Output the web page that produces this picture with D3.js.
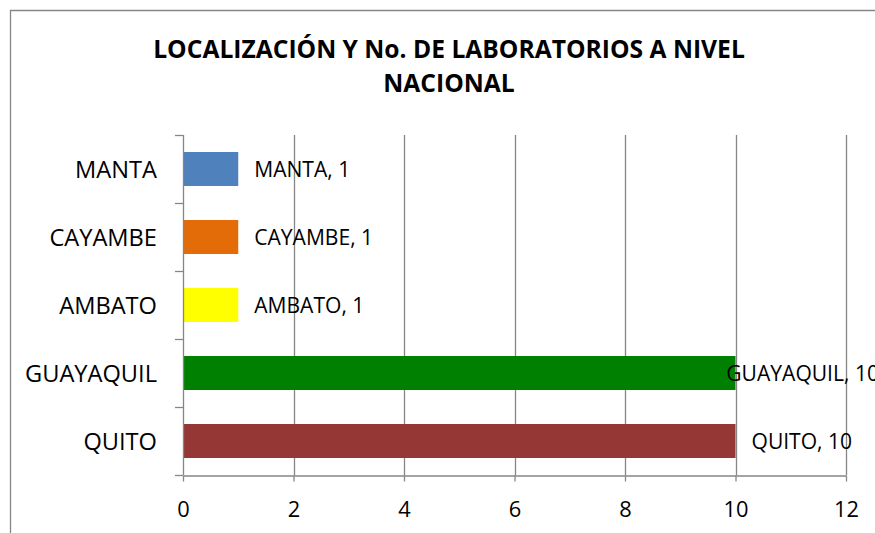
<!DOCTYPE html>
<html><head><meta charset="utf-8">
<script src="https://cdn.jsdelivr.net/npm/d3@7"></script>
<style>html,body{margin:0;padding:0;background:#fff;}svg{display:block;}</style>
</head><body>
<svg id="c" width="875" height="533"></svg>
<script>
const categories = ["QUITO", "GUAYAQUIL", "AMBATO", "CAYAMBE", "MANTA"];
const values = [10, 10, 1, 1, 1];
const colors = ["#953735", "#008000", "#FFFF00", "#E36C09", "#4F81BD"];
const xTicks = [0, 2, 4, 6, 8, 10, 12];
const titleLines = ["LOCALIZACIÓN Y No. DE LABORATORIOS A NIVEL", "NACIONAL"];

const FONT = "'Open Sans', Lato, sans-serif";
const svg = d3.select("#c");
const W = 875, H = 533;
const m = {left: 183, right: 846, top: 135, bottom: 475};
const chartRight = 879;
const GRID = "#868686";

// size a font so that a sample string has a given width
function fitSize(sample, target, weight) {
  const t = svg.append("text").attr("font-family", FONT).attr("font-weight", weight || "normal")
    .attr("font-size", 20).text(sample);
  const w = t.node().getComputedTextLength();
  t.remove();
  return 20 * target / w;
}
const titleSize = fitSize(titleLines[0], 592, "bold");
const catSize = fitSize("MANTA", 82);
const labSize = fitSize("CAYAMBE, 1", 119);
const tickSize = fitSize("10", 25);

// chart border (only left & top visible)
svg.append("path").attr("d", `M10.5,${H} V10.5 H${W}`).attr("fill", "none")
  .attr("stroke", GRID).attr("stroke-width", 1.3);

// title
const title = svg.append("g").attr("font-family", FONT).attr("font-weight", "bold")
  .attr("font-size", titleSize).attr("text-anchor", "middle").attr("fill", "#000");
titleLines.forEach((t, i) => {
  title.append("text").attr("x", 449).attr("y", 58 + i * 34).text(t);
});

const x = d3.scaleLinear().domain([0, 12]).range([m.left, m.right]);
const y = d3.scaleBand().domain(categories.slice().reverse()).range([m.top, m.bottom]).paddingInner(0.5).paddingOuter(0.25);
const yb = d3.scaleBand().domain(categories.slice().reverse()).range([m.top, m.bottom]);

// gridlines
svg.append("g").selectAll("line").data(xTicks.filter(d => d > 0)).join("line")
  .attr("x1", d => Math.round(x(d)) + 0.5).attr("x2", d => Math.round(x(d)) + 0.5)
  .attr("y1", m.top).attr("y2", m.bottom)
  .attr("stroke", GRID).attr("stroke-width", 1.3);

// bars
svg.append("g").selectAll("rect").data(categories).join("rect")
  .attr("x", x(0)).attr("y", d => y(d))
  .attr("width", (d, i) => x(values[i]) - x(0)).attr("height", y.bandwidth())
  .attr("fill", (d, i) => colors[i]);

// x axis
const xAxis = svg.append("g").attr("transform", `translate(0,${m.bottom + 0.5})`)
  .call(d3.axisBottom(x).tickValues(xTicks).tickSize(6).tickPadding(0).tickSizeOuter(0));
xAxis.select(".domain").attr("stroke", GRID).attr("stroke-width", 1.3);
xAxis.selectAll(".tick line").attr("stroke", GRID).attr("stroke-width", 1.3);
xAxis.selectAll("text").attr("font-family", FONT).attr("font-size", tickSize).attr("fill", "#000")
  .attr("y", 41).attr("dy", null);

// y axis: ticks at band boundaries
const yAxisG = svg.append("g");
yAxisG.append("line").attr("x1", m.left + 0.5).attr("x2", m.left + 0.5)
  .attr("y1", m.top).attr("y2", m.bottom).attr("stroke", GRID).attr("stroke-width", 1.3);
const bounds = categories.map(c => yb(c)).concat([m.bottom]);
yAxisG.selectAll("line.t").data(bounds).join("line").attr("class", "t")
  .attr("x1", m.left - 8).attr("x2", m.left)
  .attr("y1", d => Math.round(d) + 0.5).attr("y2", d => Math.round(d) + 0.5)
  .attr("stroke", GRID).attr("stroke-width", 1.3);
yAxisG.selectAll("text").data(categories).join("text")
  .attr("x", m.left - 26).attr("y", d => yb(d) + yb.bandwidth() / 2)
  .attr("dy", "0.36em").attr("text-anchor", "end")
  .attr("font-family", FONT).attr("font-size", catSize).attr("fill", "#000").text(d => d);

// data labels
const lab = svg.append("g").attr("font-family", FONT).attr("font-size", labSize).attr("fill", "#000");
categories.forEach((c, i) => {
  const t = lab.append("text").attr("y", yb(c) + yb.bandwidth() / 2).attr("dy", "0.36em")
    .text(`${c}, ${values[i]}`);
  const w = t.node().getComputedTextLength();
  const px = Math.min(x(values[i]) + 16, chartRight - w);
  t.attr("x", px);
});
</script>
</body></html>
